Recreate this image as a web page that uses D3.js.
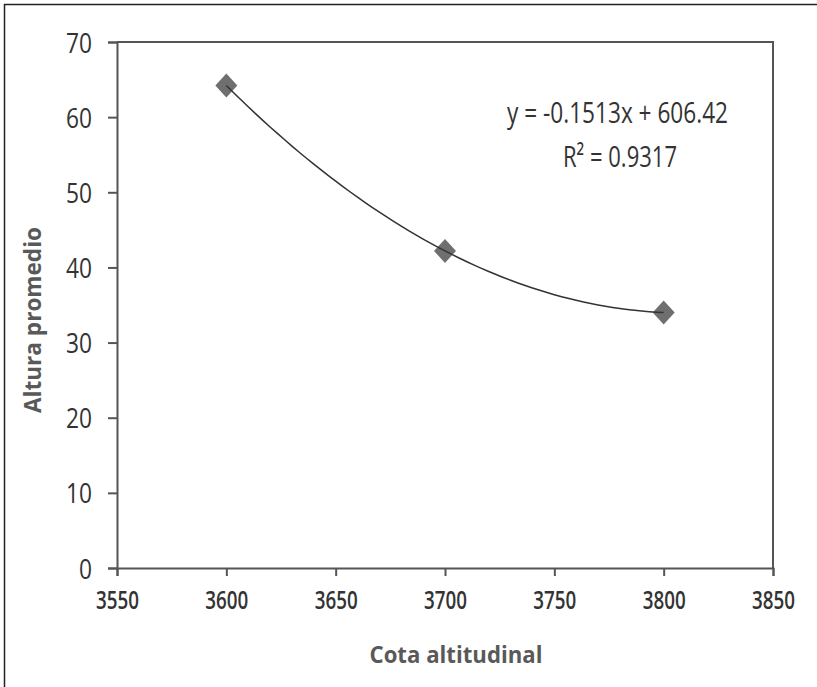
<!DOCTYPE html>
<html>
<head>
<meta charset="utf-8">
<script src="https://cdn.jsdelivr.net/npm/d3@7"></script>
<style>
  html, body { margin: 0; padding: 0; background: #fff; }
  svg { display: block; }
  text { font-family: "Open Sans", "Noto Sans", sans-serif; }
</style>
</head>
<body>
<script>
// ---- data ----
const altitudes = [3600, 3700, 3800];
const heights = [64.2, 42.2, 34.0];
const xTicks = [3550, 3600, 3650, 3700, 3750, 3800, 3850];
const yTicks = [0, 10, 20, 30, 40, 50, 60, 70];
const equationText = "y = -0.1513x + 606.42";
const r2Text = "R\u00B2 = 0.9317";
const xTitle = "Cota altitudinal";
const yTitle = "Altura promedio";

const W = 817, H = 687;
const margin = { left: 117, right: W - 773, top: 42, bottom: H - 568 };

const svg = d3.select("body").append("svg").attr("width", W).attr("height", H);

// outer border (left + top only, as in the cropped figure)
svg.append("path")
  .attr("d", `M4.5,${H} L4.5,4.5 L${W},4.5`)
  .attr("fill", "none").attr("stroke", "#222").attr("stroke-width", 1.5);

const x = d3.scaleLinear().domain([3550, 3850]).range([margin.left, W - margin.right]);
const y = d3.scaleLinear().domain([0, 70]).range([H - margin.bottom, margin.top]);

const axisColor = "#555";

// plot frame (top + right)
svg.append("path")
  .attr("d", `M${x(3550)},${y(70)} L${x(3850)},${y(70)} L${x(3850)},${y(0)}`)
  .attr("fill", "none").attr("stroke", axisColor).attr("stroke-width", 2);

// x axis
const gx = svg.append("g").attr("transform", `translate(0,${y(0)})`)
  .call(d3.axisBottom(x).tickValues(xTicks).tickSize(8).tickPadding(15).tickFormat(d3.format("d")));
gx.select(".domain").attr("stroke", axisColor).attr("stroke-width", 2);
gx.selectAll(".tick line").attr("stroke", axisColor).attr("stroke-width", 2);
gx.selectAll(".tick text")
  .attr("font-size", 25).attr("font-weight", 600).attr("fill", "#333")
  .attr("textLength", 43).attr("lengthAdjust", "spacingAndGlyphs")
  .attr("dy", "0.72em");

// y axis
const gy = svg.append("g").attr("transform", `translate(${x(3550)},0)`)
  .call(d3.axisLeft(y).tickValues(yTicks).tickSize(9).tickPadding(16).tickFormat(d3.format("d")));
gy.select(".domain").attr("stroke", axisColor).attr("stroke-width", 2);
gy.selectAll(".tick line").attr("stroke", axisColor).attr("stroke-width", 2);
gy.selectAll(".tick text")
  .attr("font-size", 28).attr("fill", "#333")
  .attr("textLength", d => String(d).length * 13).attr("lengthAdjust", "spacingAndGlyphs")
  .attr("dy", "0.36em");

// axis titles
svg.append("text")
  .attr("x", 456).attr("y", 663)
  .attr("text-anchor", "middle").attr("font-size", 24).attr("font-weight", 700)
  .attr("fill", "#595959")
  .attr("textLength", 173).attr("lengthAdjust", "spacingAndGlyphs")
  .text(xTitle);

svg.append("text")
  .attr("transform", "translate(41,320) rotate(-90)")
  .attr("text-anchor", "middle").attr("font-size", 24).attr("font-weight", 700)
  .attr("fill", "#595959")
  .attr("textLength", 186).attr("lengthAdjust", "spacingAndGlyphs")
  .text(yTitle);

// markers
const diamond = (hw, hh) => `M0,${-hh} L${hw},0 L0,${hh} L${-hw},0 Z`;
svg.append("g").selectAll("path")
  .data(altitudes.map((a, i) => [a, heights[i]]))
  .join("path")
  .attr("transform", d => `translate(${x(d[0])},${y(d[1])})`)
  .attr("d", diamond(11, 12))
  .attr("fill", "#6f6f6f");

// polynomial trendline through the data points (Lagrange interpolation of the observed values)
function lagrange(xs, ys, t) {
  let s = 0;
  for (let i = 0; i < xs.length; i++) {
    let p = ys[i];
    for (let j = 0; j < xs.length; j++) if (j !== i) p *= (t - xs[j]) / (xs[i] - xs[j]);
    s += p;
  }
  return s;
}
const xMin = d3.min(altitudes), xMax = d3.max(altitudes);
const trend = d3.range(0, 61).map(k => {
  const t = xMin + (xMax - xMin) * k / 60;
  return [t, lagrange(altitudes, heights, t)];
});
svg.append("path")
  .datum(trend)
  .attr("d", d3.line().x(d => x(d[0])).y(d => y(d[1])).curve(d3.curveLinear))
  .attr("fill", "none").attr("stroke", "#333").attr("stroke-width", 1.5);

// equation labels
svg.append("text")
  .attr("x", 617.5).attr("y", 123)
  .attr("text-anchor", "middle").attr("font-size", 30).attr("fill", "#333")
  .attr("textLength", 221).attr("lengthAdjust", "spacingAndGlyphs")
  .text(equationText);

svg.append("text")
  .attr("x", 620).attr("y", 167)
  .attr("text-anchor", "middle").attr("font-size", 30).attr("fill", "#333")
  .attr("textLength", 114).attr("lengthAdjust", "spacingAndGlyphs")
  .text(r2Text);
</script>
</body>
</html>
